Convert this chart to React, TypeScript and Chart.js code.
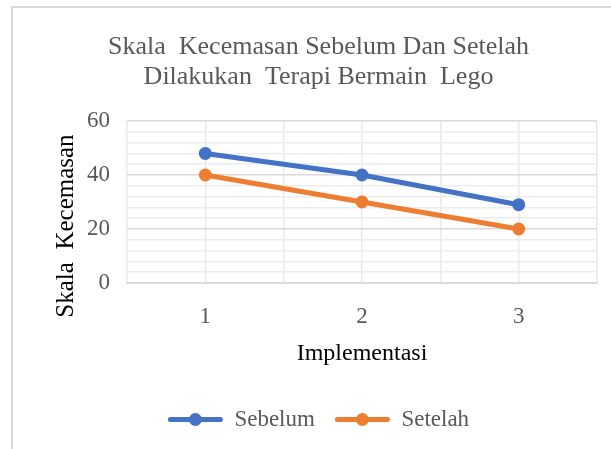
import React, { useEffect, useRef } from "react";
import { Chart, registerables } from "chart.js";

Chart.register(...registerables);

const titleLines = ["Skala  Kecemasan Sebelum Dan Setelah", "Dilakukan  Terapi Bermain  Lego"];
const categories = [1, 2, 3];
const sebelum = [48, 40, 29];
const setelah = [40, 30, 20];
const seriesNames = ["Sebelum", "Setelah"];
const xTitle = "Implementasi";
const yTitle = "Skala  Kecemasan";

const FONT = "'Liberation Serif', 'Times New Roman', serif";
const BLUE = "#4472C4";
const ORANGE = "#ED7D31";
const GREY = "#595959";

export default function App() {
  const ref = useRef<HTMLCanvasElement | null>(null);

  useEffect(() => {
    document.body.style.margin = "0";
    const canvas = ref.current;
    if (!canvas) return;

    const framePlugin = {
      id: "frame",
      beforeDraw(chart: any) {
        const ctx = chart.ctx;
        ctx.save();
        ctx.fillStyle = "#ffffff";
        ctx.fillRect(0, 0, chart.width, chart.height);
        ctx.strokeStyle = "#d9d9d9";
        ctx.lineWidth = 2;
        ctx.strokeRect(12, 7, chart.width + 50, chart.height + 50);
        ctx.restore();
      },
    };

    const extrasPlugin = {
      id: "extras",
      afterDraw(chart: any) {
        const ctx = chart.ctx;
        ctx.save();
        const area = chart.chartArea;
        ctx.translate(66, (area.top + area.bottom) / 2 + 24);
        ctx.rotate(-Math.PI / 2);
        ctx.fillStyle = "#000000";
        ctx.font = `25px ${FONT}`;
        ctx.textAlign = "center";
        ctx.textBaseline = "middle";
        ctx.fillText(yTitle, 0, 0);
        ctx.restore();
        const legend = chart.legend;
        if (legend && legend.legendHitBoxes) {
          const boxW = legend.options.labels.boxWidth;
          legend.legendHitBoxes.forEach((hb: any, i: number) => {
            const ds = chart.data.datasets[i];
            ctx.save();
            ctx.fillStyle = ds.borderColor;
            ctx.beginPath();
            ctx.arc(hb.left + boxW / 2, hb.top + hb.height / 2, 6.5, 0, Math.PI * 2);
            ctx.fill();
            ctx.restore();
          });
        }
      },
    };

    const chart = new Chart(canvas, {
      type: "line",
      data: {
        datasets: [
          {
            label: seriesNames[0],
            data: categories.map((c, i) => ({ x: c, y: sebelum[i] })),
            borderColor: BLUE,
            backgroundColor: BLUE,
            borderWidth: 5,
            pointRadius: 6.5,
            pointBackgroundColor: BLUE,
            pointBorderColor: BLUE,
            pointBorderWidth: 0,
          },
          {
            label: seriesNames[1],
            data: categories.map((c, i) => ({ x: c, y: setelah[i] })),
            borderColor: ORANGE,
            backgroundColor: ORANGE,
            borderWidth: 5,
            pointRadius: 6.5,
            pointBackgroundColor: ORANGE,
            pointBorderColor: ORANGE,
            pointBorderWidth: 0,
          },
        ],
      },
      options: {
        animation: false,
        responsive: false,
        maintainAspectRatio: false,
        layout: { padding: { left: 40, right: 14, top: 0, bottom: 8 } },
        plugins: {
          tooltip: { enabled: false },
          title: {
            display: true,
            text: titleLines,
            color: GREY,
            font: { family: FONT, size: 26, weight: "normal", lineHeight: 1.154 },
            padding: { top: 32, bottom: 29 },
          },
          legend: {
            display: true,
            position: "bottom",
            labels: {
              boxWidth: 55,
              boxHeight: 5,
              useBorderRadius: true,
              borderRadius: 2.5,
              padding: 20,
              color: GREY,
              font: { family: FONT, size: 23 },
              generateLabels: (ch: any) =>
                Chart.defaults.plugins.legend.labels
                  .generateLabels(ch)
                  .map((l: any) => ({ ...l, lineWidth: 0, fillStyle: l.strokeStyle })),
            },
          },
        },
        scales: {
          x: {
            type: "linear",
            min: 0.5,
            max: 3.5,
            afterFit(scale: any) {
              scale.height = 105;
              scale.paddingLeft = 0;
              scale.paddingRight = 0;
            },
            ticks: {
              stepSize: 0.5,
              autoSkip: false,
              maxRotation: 0,
              padding: 20,
              color: GREY,
              font: { family: FONT, size: 23 },
              callback: (v: any) => (Number.isInteger(Number(v)) ? String(v) : ""),
            },
            grid: { color: "#e9e9e9", lineWidth: 1.5, drawTicks: false },
            border: { display: true, color: "#d9d9d9", width: 2 },
            title: {
              display: true,
              text: xTitle,
              color: "#000000",
              font: { family: FONT, size: 24 },
              padding: { top: 0, bottom: 20 },
            },
          },
          y: {
            min: 0,
            max: 60,
            afterFit(scale: any) {
              scale.width = 87;
            },
            ticks: {
              stepSize: 4,
              autoSkip: false,
              padding: 17,
              color: GREY,
              font: { family: FONT, size: 23 },
              callback: (v: any) => (Number(v) % 20 === 0 ? String(v) : ""),
            },
            grid: {
              drawTicks: false,
              lineWidth: 1.5,
              color: (c: any) => (c.tick && c.tick.value % 20 === 0 ? "#d9d9d9" : "#ececec"),
            },
            border: { display: false },
          },
        },
      },
      plugins: [framePlugin, extrasPlugin],
    });

    return () => chart.destroy();
  }, []);

  return <canvas ref={ref} width={611} height={449} style={{ display: "block" }} />;
}
